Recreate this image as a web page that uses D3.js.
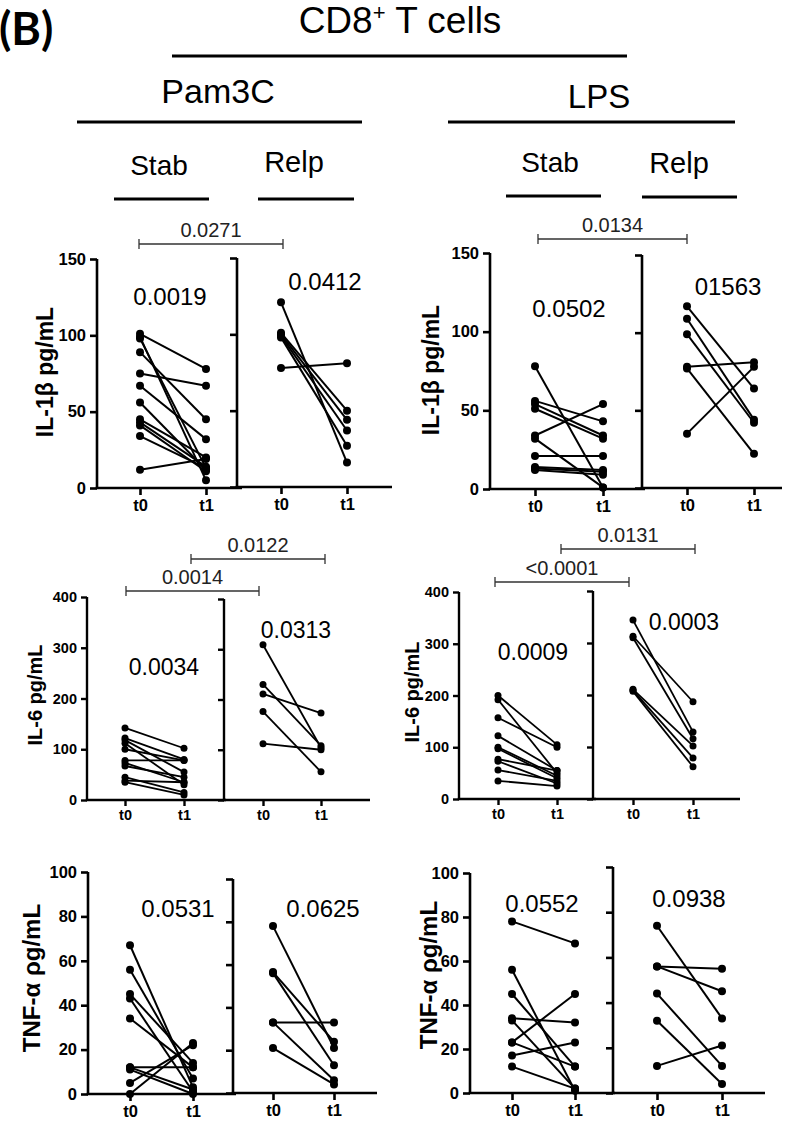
<!DOCTYPE html>
<html><head><meta charset="utf-8">
<script src="https://cdn.jsdelivr.net/npm/d3@7"></script>
<style>body{margin:0;background:#fff}svg{display:block}</style>
</head><body><svg id="c" width="800" height="1122"></svg>
<script>
// ---------- DATA ----------
const timepoints = ["t0", "t1"];
const il1bTicks = [0, 50, 100, 150];
const il6Ticks = [0, 100, 200, 300, 400];
const tnfTicks = [0, 20, 40, 60, 80, 100];

// IL-1β, Pam3C
const il1bPamStabT0 = [101, 99, 98, 89, 75, 67, 56, 45, 43, 41, 34, 12];
const il1bPamStabT1 = [78, 5, 13, 45, 67, 32, 12, 20, 14, 11, 13, 19];
const il1bPamRelpT0 = [121, 101, 100, 99, 98, 78];
const il1bPamRelpT1 = [16, 50, 44, 37, 27, 81];
// IL-1β, LPS
const il1bLpsStabT0 = [78, 56, 54, 51, 34, 32, 21, 14, 13, 12];
const il1bLpsStabT1 = [1, 43, 34, 32, 54, 1, 21, 12, 11, 9];
const il1bLpsRelpT0 = [117, 109, 99, 78, 77, 35];
const il1bLpsRelpT1 = [64, 44, 42, 81, 22, 78];
// IL-6, Pam3C
const il6PamStabT0 = [142, 122, 118, 112, 100, 78, 73, 67, 45, 38, 35];
const il6PamStabT1 = [102, 80, 55, 30, 78, 78, 35, 45, 15, 35, 10];
const il6PamRelpT0 = [309, 230, 211, 176, 112];
const il6PamRelpT1 = [104, 108, 173, 56, 100];
// IL-6, LPS
const il6LpsStabT0 = [200, 192, 157, 122, 100, 97, 77, 73, 56, 35];
const il6LpsStabT1 = [105, 50, 100, 55, 45, 40, 55, 30, 35, 25];
const il6LpsRelpT0 = [344, 313, 310, 211, 209, 207];
const il6LpsRelpT1 = [129, 187, 116, 102, 79, 62];
// TNF-α, Pam3C
const tnfPamStabT0 = [67, 56, 45, 43, 34, 12, 12, 11, 5, 0];
const tnfPamStabT1 = [3, 7, 14, 1, 12, 12, 2, 0, 22, 23];
const tnfPamRelpT0 = [78, 56.5, 56, 33, 33, 21];
const tnfPamRelpT1 = [21, 24, 13, 33, 6, 4];
// TNF-α, LPS
const tnfLpsStabT0 = [78, 56, 45, 34, 33, 23, 23, 17, 12];
const tnfLpsStabT1 = [68, 1, 12, 32, 2, 45, 12, 23, 2];
const tnfLpsRelpT0 = [74, 56, 56, 44, 32, 12];
const tnfLpsRelpT1 = [33, 55, 45, 12, 4, 21];

// p-values
const withinP = ["0.0019", "0.0412", "0.0502", "01563", "0.0034", "0.0313", "0.0009", "0.0003", "0.0531", "0.0625", "0.0552", "0.0938"];
const betweenP = ["0.0271", "0.0134", "0.0014", "0.0122", "<0.0001", "0.0131"];

// ---------- DRAW ----------
const svg = d3.select("#c");
const FONT = "'Liberation Sans', Arial, Helvetica, sans-serif";

function panel(L, t0, t1, domain, ticks, showLabels, yLabel) {
  const y = d3.scaleLinear().domain(domain).range([L.y0, L.yTop]);
  const x = d3.scalePoint().domain(timepoints).range([L.xt0, L.xt1]);
  const g = svg.append("g");
  const ay = g.append("g").attr("transform", `translate(${L.ax},0)`)
    .call(d3.axisLeft(y).tickValues(ticks).tickSize(L.tick).tickPadding(4)
      .tickFormat(showLabels ? d3.format("d") : () => ""));
  ay.select(".domain").attr("d", `M0,${L.y0}V${L.yTop}`);
  ay.selectAll("path,line").attr("stroke", "#000").attr("stroke-width", L.sw);
  ay.selectAll("text").attr("font-family", FONT).attr("font-weight", "bold")
    .attr("font-size", L.fs).attr("fill", "#000");
  const ax = g.append("g").attr("transform", `translate(0,${L.y0})`)
    .call(d3.axisBottom(x).tickSize(L.tick).tickPadding(L.xpad));
  ax.select(".domain").attr("d", `M${L.ax - L.sw / 2},0H${L.xEnd}`);
  ax.selectAll("path,line").attr("stroke", "#000").attr("stroke-width", L.sw);
  ax.selectAll("text").attr("font-family", FONT).attr("font-weight", "bold")
    .attr("font-size", L.fs).attr("fill", "#000");
  const pairs = d3.zip(t0, t1);
  g.append("g").selectAll("line").data(pairs).join("line")
    .attr("x1", x("t0")).attr("x2", x("t1"))
    .attr("y1", d => y(d[0])).attr("y2", d => y(d[1]))
    .attr("stroke", "#000").attr("stroke-width", L.lw);
  const dots = [];
  pairs.forEach(p => { dots.push(["t0", p[0]]); dots.push(["t1", p[1]]); });
  g.append("g").selectAll("circle").data(dots).join("circle")
    .attr("cx", d => x(d[0])).attr("cy", d => y(d[1])).attr("r", L.r).attr("fill", "#000");
  if (yLabel) {
    svg.append("text").attr("transform", `translate(${yLabel.x},${yLabel.y}) rotate(-90)`)
      .attr("text-anchor", "middle").attr("font-family", FONT).attr("font-weight", "bold")
      .attr("font-size", yLabel.fs).text(yLabel.text);
  }
}

const rowTop = {tick: 7, sw: 2.6, fs: 16.5, xpad: 4, lw: 2, r: 4};
const rowMid = {tick: 6, sw: 2.4, fs: 14.5, xpad: 4, lw: 1.8, r: 3.5};
const rowBot = {tick: 7, sw: 2.6, fs: 16.5, xpad: 4, lw: 2, r: 4};

panel({...rowTop, ax: 97, yTop: 259, y0: 488, xt0: 140, xt1: 206, xEnd: 242}, il1bPamStabT0, il1bPamStabT1, [0, 150], il1bTicks, true,
  {x: 53, y: 372, fs: 23, text: "IL-1β pg/mL"});
panel({...rowTop, ax: 237, yTop: 258, y0: 487, xt0: 281, xt1: 347, xEnd: 392}, il1bPamRelpT0, il1bPamRelpT1, [0, 150], il1bTicks, false);
panel({...rowTop, ax: 490, yTop: 253, y0: 489, xt0: 535, xt1: 603, xEnd: 645}, il1bLpsStabT0, il1bLpsStabT1, [0, 150], il1bTicks, true,
  {x: 439, y: 370, fs: 23, text: "IL-1β pg/mL"});
panel({...rowTop, ax: 642, yTop: 255, y0: 488, xt0: 687, xt1: 754, xEnd: 782}, il1bLpsRelpT0, il1bLpsRelpT1, [0, 150], il1bTicks, false);

panel({...rowMid, ax: 87, yTop: 597, y0: 800, xt0: 125, xt1: 184, xEnd: 226}, il6PamStabT0, il6PamStabT1, [0, 400], il6Ticks, true,
  {x: 42, y: 695, fs: 20, text: "IL-6 pg/mL"});
panel({...rowMid, ax: 224, yTop: 599, y0: 800, xt0: 263, xt1: 321, xEnd: 370}, il6PamRelpT0, il6PamRelpT1, [0, 400], il6Ticks, false);
panel({...rowMid, ax: 459, yTop: 592, y0: 799, xt0: 498, xt1: 557, xEnd: 596}, il6LpsStabT0, il6LpsStabT1, [0, 400], il6Ticks, true,
  {x: 419, y: 692, fs: 20, text: "IL-6 pg/mL"});
panel({...rowMid, ax: 593, yTop: 591, y0: 799, xt0: 633, xt1: 693, xEnd: 740}, il6LpsRelpT0, il6LpsRelpT1, [0, 400], il6Ticks, false);

panel({...rowBot, ax: 88, yTop: 872, y0: 1094, xt0: 130, xt1: 193, xEnd: 236}, tnfPamStabT0, tnfPamStabT1, [0, 100], tnfTicks, true,
  {x: 40, y: 978, fs: 24, text: "TNF-α ρg/mL"});
panel({...rowBot, ax: 233, yTop: 879, y0: 1093, xt0: 273, xt1: 334, xEnd: 377}, tnfPamRelpT0, tnfPamRelpT1, [0, 100], tnfTicks, false);
panel({...rowBot, ax: 470, yTop: 873, y0: 1093, xt0: 512, xt1: 575, xEnd: 615}, tnfLpsStabT0, tnfLpsStabT1, [0, 100], tnfTicks, true,
  {x: 437, y: 975, fs: 24, text: "TNF-α ρg/mL"});
panel({...rowBot, ax: 613, yTop: 867, y0: 1093, xt0: 657, xt1: 722, xEnd: 765}, tnfLpsRelpT0, tnfLpsRelpT1, [0, 100], tnfTicks, false);

const withinPos = [[170, 305, 24], [325, 290, 24], [569, 317, 24], [728, 295, 24],
  [164, 675, 23], [296, 638, 23], [533, 660, 23], [684, 630, 23],
  [178, 917, 24], [323, 917, 24], [542, 912, 24], [689, 907, 24]];
svg.append("g").selectAll("text").data(withinP).join("text")
  .attr("x", (d, i) => withinPos[i][0]).attr("y", (d, i) => withinPos[i][1])
  .attr("font-size", (d, i) => withinPos[i][2])
  .attr("text-anchor", "middle").attr("font-family", FONT).text(d => d);

const bracketPos = [[139, 283, 244], [538, 687, 239], [126, 259, 591], [191, 325, 559], [495, 629, 582], [561, 695, 549]];
const br = svg.append("g").selectAll("g").data(betweenP).join("g");
br.append("path").attr("d", (d, i) => {
  const [a, b, yy] = bracketPos[i];
  return `M${a},${yy - 5}V${yy + 5}M${a},${yy}H${b}M${b},${yy - 5}V${yy + 5}`;
}).attr("stroke", "#333").attr("stroke-width", 1.3).attr("fill", "none");
br.append("text").attr("x", (d, i) => (bracketPos[i][0] + bracketPos[i][1]) / 2)
  .attr("y", (d, i) => bracketPos[i][2] - 7).attr("text-anchor", "middle")
  .attr("font-family", FONT).attr("font-size", 20).attr("fill", "#222").text(d => d);

svg.append("text").attr("x", -1).attr("y", 45).attr("font-family", "Lato, 'Open Sans', sans-serif")
  .attr("font-weight", "bold").attr("font-size", 45).text("(B)");
const title = svg.append("text").attr("x", 400).attr("y", 33).attr("text-anchor", "middle")
  .attr("font-family", FONT).attr("font-size", 37);
title.append("tspan").text("CD8");
title.append("tspan").attr("font-size", 22).attr("dy", -13).text("+");
title.append("tspan").attr("dy", 13).text(" T cells");

const headLines = [[172, 627, 56], [77, 362, 122], [448, 735, 122], [114, 209, 199], [258, 354, 199], [506, 601, 196], [642, 737, 197]];
svg.append("g").selectAll("line").data(headLines).join("line")
  .attr("x1", d => d[0]).attr("x2", d => d[1]).attr("y1", d => d[2]).attr("y2", d => d[2])
  .attr("stroke", "#000").attr("stroke-width", 3);
const headTexts = [["Pam3C", 218, 103, 34], ["LPS", 599, 108, 33], ["Stab", 159, 175, 28], ["Relp", 294, 172, 29], ["Stab", 550, 172, 28], ["Relp", 679, 173, 29]];
svg.append("g").selectAll("text").data(headTexts).join("text")
  .attr("x", d => d[1]).attr("y", d => d[2]).attr("font-size", d => d[3])
  .attr("text-anchor", "middle").attr("font-family", FONT).text(d => d[0]);
</script></body></html>
